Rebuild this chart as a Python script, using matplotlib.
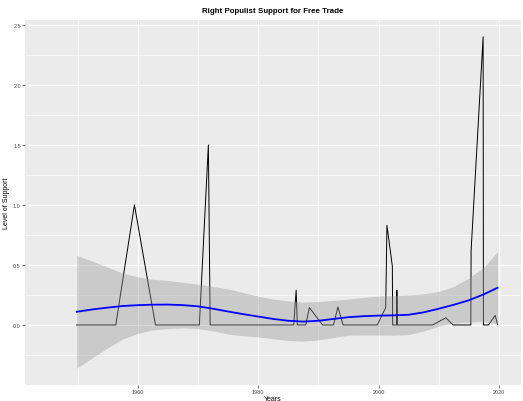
import matplotlib
matplotlib.use("Agg")
import matplotlib.pyplot as plt
from matplotlib.ticker import MultipleLocator

plt.rcParams["font.family"] = ["Liberation Sans", "DejaVu Sans"]

years = [1949.8, 1956.3, 1959.4, 1962.9, 1970.2, 1971.7, 1972.0, 1985.9, 1986.3, 1986.5,
         1987.9, 1988.5, 1990.7, 1992.5, 1993.25, 1994.1, 1999.8, 2001.2, 2001.4,
         2002.3, 2002.35, 2003.0, 2003.05, 2003.15, 2009.0, 2011.2, 2012.4, 2015.35,
         2015.4, 2017.4, 2017.45, 2018.3, 2019.4, 2019.8]
support = [0, 0, 1.0, 0, 0, 1.5, 0, 0, 0.29, 0,
           0, 0.145, 0, 0, 0.15, 0, 0, 0.145, 0.83,
           0.49, 0, 0, 0.29, 0, 0, 0.06, 0, 0,
           0.62, 2.40, 0, 0, 0.08, 0.005]

# loess fit and its confidence band
fit_years = [1949.8, 1952.5, 1955, 1957.5, 1960, 1962.5, 1965, 1967.5, 1970, 1972.5,
             1975, 1977.5, 1980, 1982.5, 1985, 1987.5, 1990, 1992.5, 1995, 1997.5,
             2000, 2002.5, 2005, 2007.5, 2010, 2012.5, 2015, 2017.5, 2019.8]
fit = [0.11, 0.13, 0.145, 0.158, 0.165, 0.169, 0.17, 0.165, 0.155, 0.135,
       0.112, 0.09, 0.07, 0.05, 0.035, 0.028, 0.035, 0.05, 0.065, 0.073,
       0.078, 0.08, 0.085, 0.105, 0.135, 0.168, 0.205, 0.255, 0.31]
upper = [0.58, 0.53, 0.48, 0.43, 0.40, 0.38, 0.37, 0.355, 0.34, 0.32,
         0.30, 0.27, 0.24, 0.215, 0.20, 0.19, 0.195, 0.205, 0.215, 0.23,
         0.24, 0.245, 0.25, 0.26, 0.28, 0.32, 0.39, 0.48, 0.61]
lower = [-0.36, -0.27, -0.19, -0.115, -0.07, -0.04, -0.03, -0.025, -0.03, -0.05,
         -0.076, -0.09, -0.10, -0.115, -0.13, -0.134, -0.125, -0.105, -0.085, -0.084,
         -0.084, -0.085, -0.08, -0.05, -0.01, 0.016, 0.025, 0.03, 0.008]

fig = plt.figure(figsize=(5.23, 4.02), dpi=100)
ax = fig.add_axes([25 / 523, 1 - 386 / 402, 496 / 523, 365 / 402])
ax.set_facecolor("#EBEBEB")

ax.plot(years, support, color="black", lw=0.7, zorder=3)
ax.fill_between(fit_years, lower, upper, color="#999999", alpha=0.4, lw=0, zorder=4)
ax.plot(fit_years, fit, color="blue", lw=1.3, zorder=5)

ax.set_xlim(1941.2, 2023.7)
ax.set_ylim(-0.5, 2.54)
ax.xaxis.set_major_locator(MultipleLocator(20))
ax.xaxis.set_minor_locator(MultipleLocator(10))
ax.yaxis.set_major_locator(MultipleLocator(0.5))
ax.yaxis.set_minor_locator(MultipleLocator(0.25))
ax.set_yticks([0, 0.5, 1.0, 1.5, 2.0, 2.5])
ax.set_yticklabels(["0.0", "0.5", "1.0", "1.5", "2.0", "2.5"])

ax.grid(which="major", color="white", lw=0.9, zorder=1)
ax.grid(which="minor", color="white", lw=0.45, zorder=1)
ax.set_axisbelow(True)
for s in ax.spines.values():
    s.set_visible(False)

ax.tick_params(which="major", length=2, width=0.5, color="#333333",
               labelsize=4, labelcolor="#4D4D4D", pad=1)
ax.tick_params(which="minor", length=0)

ax.set_xlabel("Years", fontsize=5, labelpad=0.5)
ax.set_ylabel("Level of Support", fontsize=5, labelpad=2)
ax.set_title("Right Populist Support for Free Trade", fontsize=5.7,
             fontweight="bold", pad=5.5)

fig.savefig("out.png", dpi=100)
